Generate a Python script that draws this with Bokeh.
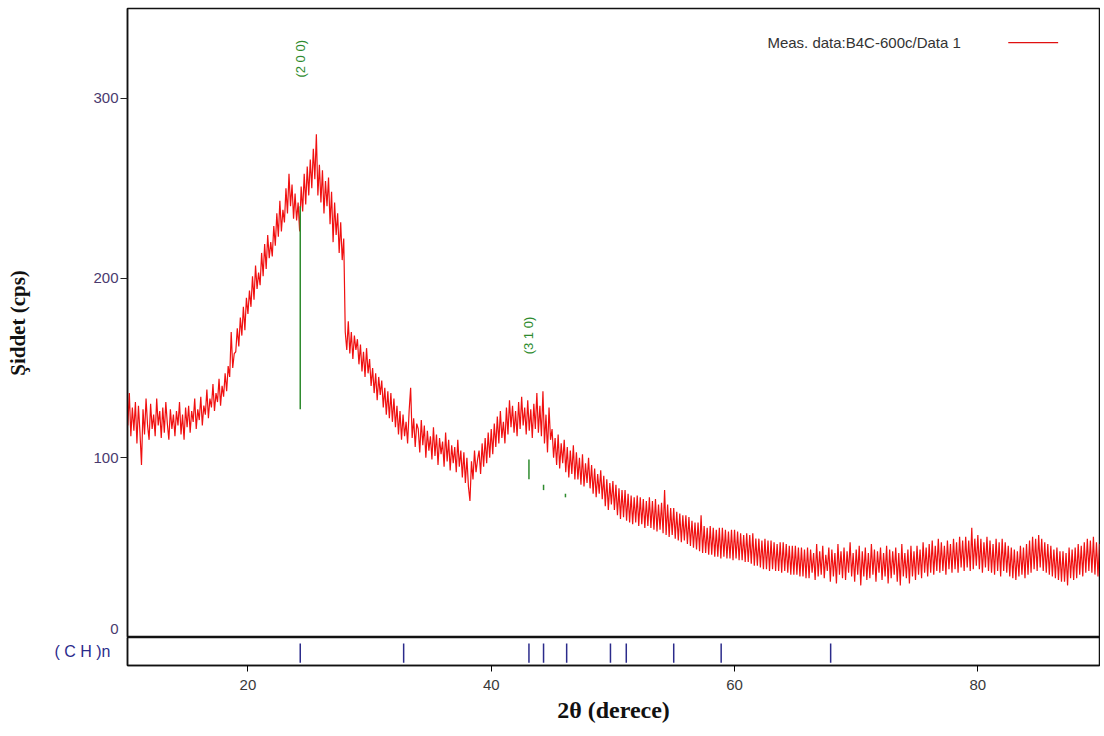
from math import pi
from bokeh.plotting import figure
from bokeh.layouts import column
from bokeh.models import FixedTicker, Range1d, LinearAxis
from bokeh.core.properties import value
from bokeh.embed import file_html
from bokeh.resources import INLINE

intensity = [
    165, 118, 136, 112, 128, 115, 131, 108,  # 10
    129, 114, 96, 127, 113, 133, 118, 110,   # 11
    130, 116, 124, 112, 133, 118, 126, 111,  # 12
    128, 114, 131, 119, 110, 127, 116, 124,  # 13
    112, 126, 118, 131, 113, 124, 110, 128,  # 14
    117, 129, 114, 126, 120, 133, 116, 127,  # 15
    121, 134, 118, 129, 124, 138, 122, 133,  # 16
    128, 141, 126, 136, 131, 144, 129, 140,  # 17
    134, 147, 137, 151, 145, 170, 150, 158,  # 18
    159, 172, 162, 178, 168, 184, 171, 189,  # 19
    180, 193, 184, 201, 188, 207, 194, 203,  # 20
    196, 214, 201, 219, 205, 224, 211, 220,  # 21
    212, 229, 218, 236, 223, 243, 226, 238,  # 22
    231, 250, 236, 258, 240, 252, 233, 247,  # 23
    232, 242, 226, 251, 237, 258, 241, 262,  # 24
    246, 266, 250, 272, 255, 280, 246, 263,  # 25
    242, 260, 236, 254, 240, 256, 230, 248,  # 26
    220, 242, 224, 236, 214, 231, 210, 222,  # 27
    170, 160, 176, 158, 170, 155, 168, 160,  # 28
    166, 152, 163, 148, 159, 145, 161, 147,  # 29
    155, 140, 150, 136, 147, 132, 145, 135,  # 30
    143, 128, 139, 124, 137, 122, 136, 120,  # 31
    133, 117, 129, 113, 126, 110, 124, 112,  # 32
    120, 108, 126, 139, 111, 122, 106, 119,  # 33
    116, 103, 121, 107, 118, 100, 115, 104,  # 34
    112, 99, 117, 101, 113, 96, 111, 102,    # 35
    109, 95, 114, 98, 110, 93, 107, 97,      # 36
    106, 92, 110, 95, 104, 89, 103, 86,      # 37
    100, 84, 76, 98, 88, 104, 92, 99,        # 38
    104, 91, 108, 95, 111, 97, 114, 100,     # 39
    116, 102, 119, 106, 123, 108, 126, 111,  # 40
    120, 108, 128, 113, 132, 117, 129, 114,  # 41
    126, 112, 131, 116, 134, 118, 128, 113,  # 42
    132, 115, 127, 111, 130, 116, 136, 114,  # 43
    129, 112, 137, 108, 124, 103, 128, 110,  # 44
    116, 100, 111, 96, 113, 94, 108, 97,     # 45
    110, 92, 106, 89, 104, 91, 107, 88,      # 46
    103, 88, 100, 85, 102, 84, 97, 86,       # 47
    100, 83, 96, 80, 94, 78, 91, 80,         # 48
    93, 77, 90, 73, 88, 71, 86, 74,          # 49
    87, 71, 85, 68, 83, 66, 82, 67,          # 50
    82, 65, 80, 64, 79, 63, 78, 64,          # 51
    79, 62, 78, 63, 77, 61, 76, 62,          # 52
    78, 61, 76, 60, 77, 59, 74, 60,          # 53
    75, 58, 82, 57, 74, 56, 72, 57,          # 54
    72, 55, 70, 54, 69, 53, 68, 54,          # 55
    68, 52, 67, 51, 65, 50, 64, 49,          # 56
    64, 48, 68, 47, 62, 47, 61, 46,          # 57
    62, 46, 61, 45, 60, 45, 61, 44,          # 58
    61, 45, 60, 44, 59, 44, 60, 43,          # 59
    60, 44, 59, 43, 58, 43, 57, 42,          # 60
    58, 42, 57, 41, 58, 40, 55, 40,          # 61
    55, 39, 54, 38, 55, 38, 54, 37,          # 62
    54, 38, 53, 37, 52, 37, 53, 36,          # 63
    53, 37, 52, 36, 51, 35, 51, 35,          # 64
    51, 35, 50, 34, 50, 34, 49, 33,          # 65
    50, 33, 49, 36, 47, 32, 52, 34,          # 66
    48, 35, 51, 33, 46, 37, 50, 31,          # 67
    49, 34, 47, 30, 52, 35, 48, 33,          # 68
    50, 32, 48, 36, 53, 34, 47, 31,          # 69
    49, 35, 51, 29, 48, 34, 50, 32,          # 70
    47, 33, 52, 35, 49, 31, 48, 36,          # 71
    50, 32, 47, 34, 51, 30, 49, 33,          # 72
    48, 35, 50, 31, 47, 29, 52, 34,          # 73
    47, 33, 49, 30, 51, 34, 48, 32,          # 74
    51, 35, 49, 33, 53, 36, 50, 34,          # 75
    52, 36, 54, 35, 51, 37, 55, 36,          # 76
    53, 37, 51, 35, 54, 38, 52, 36,          # 77
    55, 38, 53, 36, 56, 39, 54, 37,          # 78
    56, 39, 54, 37, 61, 38, 55, 40,          # 79
    57, 38, 55, 36, 53, 39, 56, 37,          # 80
    54, 36, 52, 35, 55, 37, 53, 34,          # 81
    55, 37, 53, 36, 51, 34, 50, 33,          # 82
    49, 32, 48, 34, 51, 35, 50, 33,          # 83
    52, 35, 54, 36, 56, 38, 55, 37,          # 84
    57, 39, 55, 37, 53, 36, 52, 35,          # 85
    51, 34, 49, 33, 50, 32, 48, 31,          # 86
    48, 31, 47, 29, 50, 33, 49, 32,          # 87
    50, 33, 52, 35, 51, 34, 53, 36,          # 88
    55, 37, 54, 36, 56, 35, 53, 34,          # 89
    52,                                      # 90
]
two_theta = [10 + 0.125 * i for i in range(len(intensity))]

# Reference pattern sticks (green) in the main panel
ref_pos = [24.3, 43.1, 44.3, 46.1]
ref_low = [127, 88, 82, 78]
ref_high = [240, 99, 85, 80]
ref_labels = ["(2 0 0)", "(3 1 0)"]
ref_label_x = [24.3, 43.1]
ref_label_y = [322, 168]

# (C H)n phase stick positions (bottom strip)
ch_pos = [24.3, 32.8, 43.1, 44.3, 46.2, 49.8, 51.1, 55.0, 58.9, 67.9]

y_ticks = [0, 100, 200, 300]
y_tick_labels = ["0", "100", "200", "300"]
x_ticks = [20, 40, 60, 80]
legend_text = "Meas. data:B4C-600c/Data 1"

W = 1100
LEFT = 127
RIGHT = 1
x_rng = Range1d(10.1, 90.0)

p1 = figure(width=W, height=637, x_range=x_rng, y_range=Range1d(0, 350),
            x_axis_location=None, output_backend="svg", toolbar_location=None,
            min_border_left=LEFT, min_border_right=RIGHT, min_border_top=8,
            min_border_bottom=0)
p1.grid.visible = False
p1.outline_line_color = "#111111"
p1.outline_line_width = 1.5

# axis next to the frame: tick marks only
ya = p1.yaxis[0]
ya.ticker = FixedTicker(ticks=y_ticks, minor_ticks=[])
ya.major_label_overrides = {t: "" for t in y_ticks}
ya.major_label_standoff = 0
ya.major_tick_out = 7
ya.major_tick_in = 0
ya.major_tick_line_color = "#222222"
ya.axis_line_color = "#111111"
ya.axis_line_width = 1.5

# outer axis: the numbers ("0" printed a little above its tick, as in the reference)
label_pos = [5, 100, 200, 300]
yb = LinearAxis(ticker=FixedTicker(ticks=label_pos, minor_ticks=[]))
yb.major_label_overrides = dict(zip(label_pos, y_tick_labels))
yb.major_tick_out = 0
yb.major_tick_in = 0
yb.axis_line_color = None
yb.major_label_standoff = 2
yb.major_label_text_font = "Liberation Sans"
yb.major_label_text_font_size = "15px"
yb.major_label_text_color = "#4a3a6e"
yb.axis_label = "Şiddet (cps)"
yb.axis_label_text_font = "Liberation Serif"
yb.axis_label_text_font_style = "bold"
yb.axis_label_text_font_size = "21px"
yb.axis_label_text_color = "#111111"
yb.axis_label_standoff = 60
p1.add_layout(yb, "left")

p1.line(two_theta, intensity, line_color="#f01010", line_width=1.2)

p1.segment(x0=ref_pos, y0=ref_low, x1=ref_pos, y1=ref_high,
           line_color="#2e8b2e", line_width=1.5)
p1.text(x=ref_label_x, y=ref_label_y, text=ref_labels, angle=pi / 2,
        text_align="center", text_baseline="middle", text_color="#2e8b2e",
        text_font=value("Liberation Sans"), text_font_size="13px")

p1.text(x=[62.7], y=[331], text=[legend_text], text_align="left",
        text_baseline="middle", text_color="#333333",
        text_font=value("Liberation Sans"), text_font_size="15px")
p1.segment(x0=[82.5], y0=[331], x1=[86.6], y1=[331], line_color="#e01010",
           line_width=1.2)

p2 = figure(width=W, height=98, x_range=x_rng, y_range=Range1d(0, 1),
            output_backend="svg", toolbar_location=None,
            min_border_left=LEFT, min_border_right=RIGHT, min_border_top=0,
            min_border_bottom=70)
p2.grid.visible = False
p2.outline_line_color = "#111111"
p2.outline_line_width = 1.5
y2 = p2.yaxis[0]
y2.ticker = FixedTicker(ticks=[0.5], minor_ticks=[])
y2.major_label_overrides = {0.5: "( C H )n"}
y2.major_tick_out = 0
y2.major_tick_in = 0
y2.axis_line_color = "#111111"
y2.axis_line_width = 1.5
y2.major_label_standoff = 17
y2.major_label_text_font = "Liberation Sans"
y2.major_label_text_font_size = "16px"
y2.major_label_text_color = "#2b2b8b"

xa = p2.xaxis[0]
xa.ticker = FixedTicker(ticks=x_ticks, minor_ticks=[])
xa.major_tick_out = 6
xa.major_tick_in = 0
xa.axis_line_color = "#111111"
xa.axis_line_width = 1.5
xa.major_label_standoff = 8
xa.major_label_text_font = "Liberation Sans"
xa.major_label_text_font_size = "15px"
xa.major_label_text_color = "#3a3a3a"
xa.axis_label = "2θ (derece)"
xa.axis_label_text_font = "Liberation Serif"
xa.axis_label_text_font_style = "bold"
xa.axis_label_text_font_size = "24px"
xa.axis_label_text_color = "#111111"
xa.axis_label_standoff = 4

p2.segment(x0=ch_pos, y0=[0.1] * len(ch_pos), x1=ch_pos,
           y1=[0.79] * len(ch_pos), line_color="#2b2b8b", line_width=1.5)

layout = column(p1, p2)
open("out.html", "w").write(file_html(layout, INLINE))
